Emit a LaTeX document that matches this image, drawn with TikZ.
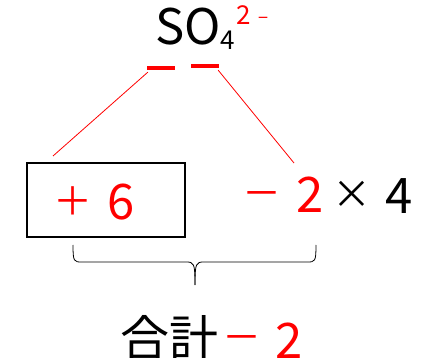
\documentclass[tikz,border=0pt]{standalone}
\usepackage{fontspec}
\setmainfont{Noto Sans CJK JP}
\begin{document}
\begin{tikzpicture}[x=1pt,y=-1pt,
  big/.style={inner sep=0pt,anchor=base,font=\fontsize{49}{49}\selectfont},
  op/.style={inner sep=0pt,anchor=base,font=\fontsize{39}{39}\selectfont},
  sup/.style={inner sep=0pt,anchor=base,font=\fontsize{26}{26}\selectfont},
  redtxt/.style={text=red},
  bar/.style={fill=red,draw=none,minimum width=28pt,minimum height=4pt,inner sep=0pt},
  conn/.style={red,line width=0.8pt},
  box/.style={draw=black,line width=2.2pt,minimum width=158pt,minimum height=74pt,inner sep=0pt}]
\useasboundingbox (0,0) rectangle (426,358);
% formula
\node[big] (S) at (170,45) {S};
\node[big] (O) at (203,45) {O};
\node[sup] (sub4) at (228,50) {4};
\node[sup,redtxt] (sup2) at (244,25) {2};
\node[sup,redtxt,font=\fontsize{18}{18}\selectfont] (supm) at (263,25) {−};
% bars
\node[bar] (bar1) at (161,68) {};
\node[bar] (bar2) at (205,66) {};
% box
\node[box] (box) at (106,200) {};
\node[op,redtxt] (plus) at (73,216) {＋};
\node[big,redtxt] (six) at (121,220) {6};
\node[op,redtxt] (minus) at (262,208) {－};
\node[big,redtxt] (two) at (310,213) {2};
\node[op] (times) at (352,209) {×};
\node[big] (four) at (399,214) {4};
% connectors
\coordinate (e1) at (53,156);
\coordinate (e2) at (294,163);
\draw[conn] (bar1.south west) ++(1,2) -- (e1);
\draw[conn] (bar2.south east) ++(-1,2) -- (e2);
% brace
\coordinate (bl) at (73,245);
\coordinate (br) at (316,245);
\coordinate (bt) at (195,285);
\draw[line width=0.8pt] (bl) .. controls (73,262) and (74,262) .. (82,262) -- (186,262) .. controls (194,262) and (195,263) .. (bt);
\draw[line width=0.8pt] (br) .. controls (316,262) and (315,262) .. (307,262) -- (204,262) .. controls (196,262) and (195,263) .. (bt);
% total
\node[big] (goukei) at (169,356) {合計};
\node[op,redtxt] (tm) at (242,351) {－};
\node[big,redtxt] (t2) at (289,358) {2};
\end{tikzpicture}
\end{document}
